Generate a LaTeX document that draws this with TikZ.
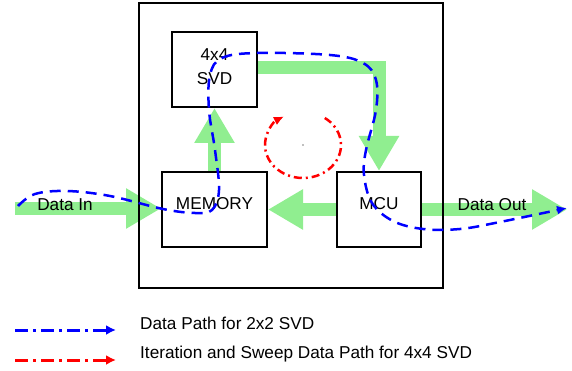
\documentclass[tikz,border=0pt]{standalone}
\usepackage{fontspec}
\setmainfont{Liberation Sans}
\usetikzlibrary{arrows.meta,backgrounds}
\definecolor{lgreen}{RGB}{144,238,144}
\begin{document}
\begin{tikzpicture}[x=1pt,y=-1pt,
  box/.style={draw=black,line width=2pt,fill=white,inner sep=0pt},
  garrow/.style={draw=lgreen,line width=13pt,line join=miter,-{Triangle[length=35pt,width=38pt]}},
  bluepath/.style={draw=blue,line width=2.5pt,dash pattern=on 11pt off 7pt,-{Latex[length=10pt,width=9pt]}},
  redpath/.style={draw=red,line width=2.5pt,dash pattern=on 8pt off 4pt on 2pt off 4pt,-{Latex[length=10pt,width=9pt]}},
  legblue/.style={draw=blue,line width=3pt,dash pattern=on 13pt off 5pt on 3pt off 5pt,-{Latex[length=10pt,width=10pt]}},
  legred/.style={draw=red,line width=3pt,dash pattern=on 13pt off 5pt on 3pt off 5pt,-{Latex[length=10pt,width=10pt]}},
  txt/.style={inner sep=0pt},
  every node/.style={font=\fontsize{17.2}{20}\selectfont}
]
\useasboundingbox (0,0) rectangle (572,371);
% outer box
\node[draw,line width=2pt,minimum width=304pt,minimum height=285pt,inner sep=0pt] (outer) at (291,145.5) {};
% inner boxes
\node[box,minimum width=85pt,minimum height=75pt,label={[yshift=3pt,align=center,font=\fontsize{17.2}{24}\selectfont]center:4x4\\SVD}] (svd) at (214.5,69.5) {};
\node[box,minimum width=105pt,minimum height=75pt,label={[yshift=6pt]center:MEMORY}] (mem) at (214.5,209.5) {};
\node[box,minimum width=84pt,minimum height=75pt,label={[yshift=6pt]center:MCU}] (mcu) at (379,209.5) {};
\coordinate (inS) at (15,208.5);
\coordinate (outE) at (567,209.5);
% green arrows
\begin{scope}[on background layer]
\draw[garrow] (inS) -- (mem.west |- inS);
\draw[garrow] (mem.north) -- (svd.south);
\draw[garrow] ([yshift=1.5pt]svd.east) -| (mcu.north);
\draw[garrow] (mcu.west) -- (mem.east);
\draw[garrow] (mcu.east) -- (outE);
\end{scope}
\node[txt] (din) at (65,205) {Data In};
\node[txt] (dout) at (492,205) {Data Out};
% blue data path
\draw[bluepath] plot[smooth,tension=0.6] coordinates {(18,206) (35,194) (67,191) (110,196) (163,209) (195,213) (212,210) (219,190) (215,150) (209,110) (210,75) (222,58) (257,53) (330,55) (363,63) (376,80) (376,110) (366,150) (364,175) (372,203) (393,221) (423,229) (460,229) (500,222) (567,208)};
% red iteration circle
\coordinate (rc) at (303,145);
\draw[redpath] (rc) ++(-55:38 and 33) arc[start angle=-55,end angle=240,x radius=38,y radius=33];
\fill[gray] (rc) circle (0.8pt);
% legend
\coordinate (l1s) at (15,330);
\coordinate (l1e) at (116,330);
\coordinate (l2s) at (15,360);
\coordinate (l2e) at (116,360);
\draw[legblue] (l1s) -- (l1e);
\draw[legred] (l2s) -- (l2e);
\node[txt,anchor=west] (t1) at (140,323) {Data Path for 2x2 SVD};
\node[txt,anchor=west] (t2) at (140,354) {Iteration and Sweep Data Path for 4x4 SVD};
\end{tikzpicture}
\end{document}
